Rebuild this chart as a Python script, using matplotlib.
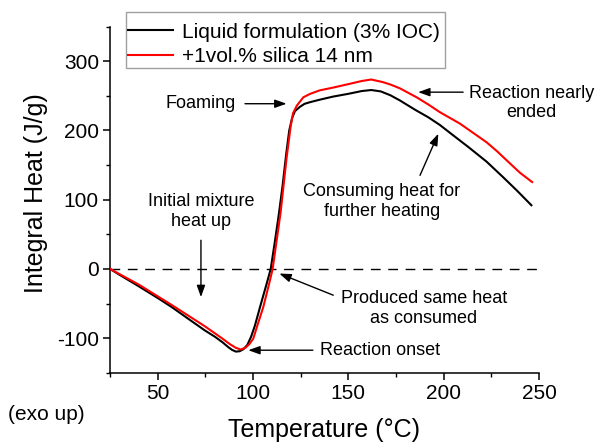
import matplotlib
matplotlib.use("Agg")
import matplotlib.pyplot as plt
from matplotlib.ticker import MultipleLocator
from matplotlib.patches import Rectangle

plt.rcParams['font.family'] = ['Liberation Sans', 'DejaVu Sans']
plt.rcParams['axes.unicode_minus'] = False

# ---- data ----
temp_black = [25, 30, 40, 50, 57.3, 66, 74.8, 80, 84, 87, 89, 91, 93, 95, 97, 99, 101,
              103.7, 107.2, 109.3, 111.5, 113.5, 115.5, 117.5, 119, 120.5, 122, 124.5, 127,
              130, 135, 142, 150, 157, 162, 167, 172, 177, 185, 192, 198, 205, 213,
              222.5, 231, 238.5, 246]
heat_black = [0, -8.5, -25, -42, -55, -72, -89, -98, -106, -113, -117, -119.5, -119, -116,
              -110, -98, -82, -55, -21, 0, 40, 78, 120, 168, 200, 218, 228, 234, 238.5,
              241, 244.5, 249, 253, 257, 258.5, 256.5, 251, 243.5, 230, 219, 208, 193, 176,
              155, 133, 113, 92]

temp_red = [25, 30, 40, 57.3, 74.8, 83.6, 88, 91, 93.5, 96, 98, 100.1, 102.5, 105.4, 108.5,
            110.3, 112.4, 114.5, 116, 117.6, 119.7, 121, 123, 126.4, 130, 135, 142, 150,
            157, 162, 168, 172, 177, 185.8, 192, 198, 208.5, 215, 222.5, 228, 233, 240, 246.4]
heat_red = [0, -7.5, -22.5, -52, -83, -100, -109, -114, -116.5, -114, -109, -101, -80, -55,
            -21, 0, 41, 82, 120, 160, 205, 225, 236, 248, 253, 258, 262, 267, 271.5, 273.7,
            270, 266.5, 261, 248, 237.5, 226.5, 210, 197.5, 183, 170, 157, 139, 125.5]

series_labels = ["Liquid formulation (3% IOC)", "+1vol.% silica 14 nm"]
zero_level = 0

fig = plt.figure(figsize=(5.95, 4.45), dpi=100)
ax = fig.add_axes([110/595, 1-372.7/445, 429/595, 346/445])

ax.axhline(zero_level, color='black', lw=1.0, dashes=(7, 5.5), zorder=1)
ax.plot(temp_black, heat_black, color='black', lw=1.5, label=series_labels[0], zorder=3)
ax.plot(temp_red, heat_red, color='#ff0000', lw=1.5, label=series_labels[1], zorder=3)

ax.set_xlim(25, 250)
ax.set_ylim(-150, 350)
ax.xaxis.set_major_locator(MultipleLocator(50))
ax.xaxis.set_minor_locator(MultipleLocator(25))
ax.yaxis.set_major_locator(MultipleLocator(100))
ax.yaxis.set_minor_locator(MultipleLocator(50))
ax.spines['top'].set_visible(False)
ax.spines['right'].set_visible(False)
for s in ('left', 'bottom'):
    ax.spines[s].set_linewidth(1.1)
ax.tick_params(which='major', direction='out', length=5, width=1.1, labelsize=15, pad=3)
ax.tick_params(which='minor', direction='out', length=3, width=1.0)

ax.set_xlabel("Temperature (°C)", fontsize=18)
ax.set_ylabel("Integral Heat (J/g)", fontsize=18)
ax.xaxis.set_label_coords(0.5, -0.13)
ax.yaxis.set_label_coords(-0.145, 0.52)

# legend frame drawn as a rectangle in figure coordinates
ax.add_patch(Rectangle((126/595, 1-67.7/445), (445-126)/595, (67.7-11.7)/445,
                       transform=fig.transFigure, facecolor='white',
                       edgecolor='#a0a0a0', lw=1.0, zorder=4, clip_on=False))
leg = ax.legend(loc='upper left', bbox_to_anchor=(126/595, 1-20.5/445),
                bbox_transform=fig.transFigure, borderaxespad=0, fontsize=15,
                frameon=False, handlelength=2.16, handletextpad=0.43,
                borderpad=0.1, labelspacing=0.27)
leg.set_zorder(5)

fs = 13
arrow_kw = dict(arrowstyle='-|>,head_length=0.7,head_width=0.25', color='black',
                lw=1.0, mutation_scale=10, shrinkA=0, shrinkB=0)

ax.text(72.7, 239, "Foaming", fontsize=fs, ha='center', va='center')
ax.annotate('', xy=(117.6, 238.7), xytext=(95.8, 238.7), arrowprops=arrow_kw)

ax.text(72.7, 83, "Initial mixture\nheat up", fontsize=fs, ha='center', va='center')
ax.annotate('', xy=(72.7, -40.8), xytext=(72.7, 41.4), arrowprops=arrow_kw)

ax.text(135.1, -117.5, "Reaction onset", fontsize=fs, ha='left', va='center')
ax.annotate('', xy=(97.5, -117.5), xytext=(131.4, -117.5), arrowprops=arrow_kw)

ax.text(189.7, -57.4, "Produced same heat\nas consumed", fontsize=fs, ha='center', va='center')
ax.annotate('', xy=(113.8, -6.7), xytext=(142.1, -38), arrowprops=arrow_kw)

ax.text(246.1, 239.8, "Reaction nearly\nended", fontsize=fs, ha='center', va='center')
ax.annotate('', xy=(186.6, 255.4), xytext=(210.2, 255.4), arrowprops=arrow_kw)

ax.text(167.5, 97.7, "Consuming heat for\nfurther heating", fontsize=fs, ha='center', va='center')
ax.annotate('', xy=(197.2, 195.4), xytext=(187.6, 135.2), arrowprops=arrow_kw)

fig.text(8/595, 1-415/445, "(exo up)", fontsize=15, ha='left', va='center')

fig.savefig("out.png", dpi=100)
